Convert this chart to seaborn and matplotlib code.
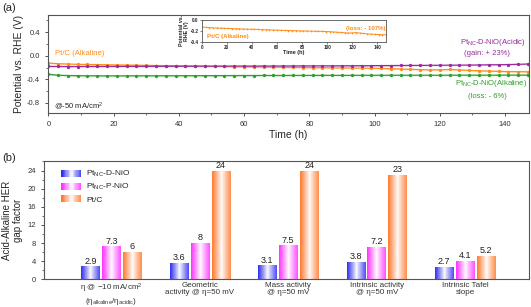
import numpy as np
import pandas as pd
import matplotlib
matplotlib.use("Agg")
import matplotlib.pyplot as plt
import seaborn as sns
from matplotlib.patches import Patch, Rectangle
from matplotlib.legend_handler import HandlerBase
from matplotlib.ticker import MultipleLocator, FormatStrFormatter

# ---------------- data: (a) stability test ----------------
time_h = [0, 3, 6, 9, 12, 15, 18, 21, 24, 27, 30, 33, 36, 39, 42, 45, 48, 51, 54, 57,
          60, 63, 66, 69, 72, 75, 78, 81, 84, 87, 90, 93, 96, 99, 102, 105, 108, 111, 114, 117,
          120, 123, 126, 129, 132, 135, 138, 141, 144, 147]

ptc_alkaline = [-0.125, -0.135, -0.140, -0.145, -0.148, -0.150, -0.153, -0.156, -0.158, -0.160,
                -0.163, -0.166, -0.168, -0.170, -0.172, -0.175, -0.178, -0.180, -0.182, -0.185,
                -0.187, -0.190, -0.192, -0.194, -0.196, -0.198, -0.200, -0.202, -0.203, -0.205,
                -0.207, -0.208, -0.210, -0.212, -0.215, -0.220, -0.225, -0.230, -0.235, -0.240,
                -0.238, -0.232, -0.240, -0.248, -0.255, -0.260, -0.265, -0.268, -0.270, -0.272]

dnio_acidic = [-0.180, -0.182, -0.183, -0.183, -0.182, -0.182, -0.181, -0.181, -0.180, -0.180,
               -0.180, -0.179, -0.179, -0.178, -0.178, -0.177, -0.177, -0.176, -0.176, -0.175,
               -0.175, -0.175, -0.174, -0.174, -0.173, -0.173, -0.172, -0.172, -0.171, -0.171,
               -0.170, -0.170, -0.169, -0.168, -0.167, -0.166, -0.165, -0.164, -0.163, -0.162,
               -0.161, -0.160, -0.159, -0.158, -0.156, -0.154, -0.152, -0.149, -0.145, -0.140]

dnio_alkaline = [-0.315, -0.330, -0.335, -0.338, -0.340, -0.340, -0.341, -0.341, -0.341, -0.340,
                 -0.340, -0.340, -0.339, -0.339, -0.338, -0.338, -0.337, -0.337, -0.336, -0.336,
                 -0.335, -0.335, -0.334, -0.334, -0.334, -0.333, -0.333, -0.333, -0.332, -0.332,
                 -0.332, -0.332, -0.331, -0.331, -0.331, -0.331, -0.330, -0.330, -0.330, -0.330,
                 -0.330, -0.330, -0.329, -0.329, -0.329, -0.329, -0.329, -0.328, -0.328, -0.328]

# ---------------- data: (b) gap factors ----------------
categories = ["η @ −10 mA/cm$^2$\n(η$_{\\mathregular{alkaline}}$/η$_{\\mathregular{acidic}}$)",
              "Geometric\nactivity @ η=50 mV",
              "Mass activity\n@ η=50 mV",
              "Intrinsic activity\n@ η=50 mV",
              "Intrinsic Tafel\nslope"]
catalysts = ["Pt$_{\\mathregular{NC}}$-D-NiO", "Pt$_{\\mathregular{NC}}$-P-NiO", "Pt/C"]
gap_dnio = [2.9, 3.6, 3.1, 3.8, 2.7]
gap_pnio = [7.3, 8, 7.5, 7.2, 4.1]
gap_ptc = [6, 24, 24, 23, 5.2]

c_orange = "#ff8c1a"
c_purple = "#9a2a9e"
c_green = "#2ca02c"
bar_colors = ["#2f2ff0", "#ff33ff", "#ff7a2e"]

sns.set_style("ticks")
plt.rcParams["font.family"] = ["Liberation Sans", "DejaVu Sans"]
plt.rcParams["mathtext.fontset"] = "custom"
plt.rcParams["mathtext.rm"] = "Liberation Sans"
plt.rcParams["mathtext.it"] = "Liberation Sans:italic"

fig = plt.figure(figsize=(5.31, 3.07), dpi=100)
spine_col = "#555555"


def style_axes(ax):
    for s in ax.spines.values():
        s.set_visible(True)
        s.set_color(spine_col)
        s.set_linewidth(0.8)
    ax.tick_params(colors="#333333", width=0.6, length=2.5, which="major")
    ax.tick_params(colors="#333333", width=0.5, length=1.5, which="minor")


# ================= (a) =================
ax1 = fig.add_axes([0.091, 0.632, 0.905, 0.319])
df_a = pd.DataFrame({"t": time_h, "ptc": ptc_alkaline, "acid": dnio_acidic, "alk": dnio_alkaline})
for col, c in [("alk", c_green), ("ptc", c_orange), ("acid", c_purple)]:
    ax1.fill_between(df_a["t"], df_a[col] - 0.012, df_a[col] + 0.012, color=c, alpha=0.18, lw=0)
    sns.lineplot(data=df_a, x="t", y=col, ax=ax1, color=c, lw=0.9, marker="o",
                 markersize=2.4, markeredgewidth=0)
ax1.set_xlim(0, 147.3)
ax1.set_ylim(-0.97, 0.69)
ax1.xaxis.set_major_locator(MultipleLocator(20))
ax1.xaxis.set_minor_locator(MultipleLocator(10))
ax1.yaxis.set_major_locator(MultipleLocator(0.4))
ax1.yaxis.set_minor_locator(MultipleLocator(0.2))
ax1.yaxis.set_major_formatter(FormatStrFormatter("%.1f"))
ax1.tick_params(labelsize=5.5)
ax1.set_xlabel("Time (h)", fontsize=7.5, labelpad=1)
ax1.set_ylabel("Potential vs. RHE (V)", fontsize=7.5, labelpad=2)
style_axes(ax1)

ax1.text(2, 0.03, "Pt/C (Alkaline)", color=c_orange, fontsize=5.5, va="center")
ax1.text(1.7, -0.85, "@-50 mA/cm$^2$", color="#222222", fontsize=5.5, va="center")
ax1.text(146.5, 0.224, "Pt$_{\\mathregular{NC}}$-D-NiO(Acidic)", color=c_purple, fontsize=5.5,
         ha="right", va="center")
ax1.text(134.4, 0.044, "(gain: + 23%)", color=c_purple, fontsize=5.5, ha="center", va="center")
ax1.text(146.9, -0.465, "Pt$_{\\mathregular{NC}}$-D-NiO(Alkaline)", color=c_green, fontsize=5.5,
         ha="right", va="center")
ax1.text(134.7, -0.69, "(loss: - 6%)", color=c_green, fontsize=5.5, ha="center", va="center")

# inset
axi = fig.add_axes([0.380, 0.864, 0.347, 0.071])
sns.lineplot(data=df_a, x="t", y="ptc", ax=axi, color=c_orange, lw=0.7, marker="o",
             markersize=1.2, markeredgewidth=0)
axi.set_xlim(0, 147)
axi.set_ylim(-0.4, 0.0)
axi.xaxis.set_major_locator(MultipleLocator(20))
axi.yaxis.set_major_locator(MultipleLocator(0.2))
axi.yaxis.set_major_formatter(FormatStrFormatter("%.1f"))
axi.tick_params(labelsize=3.3, pad=1, length=1.2, width=0.4)
for lab in axi.get_xticklabels() + axi.get_yticklabels():
    lab.set_fontweight("bold")
axi.set_xlabel("Time (h)", fontsize=4, fontweight="bold", labelpad=0)
axi.set_ylabel("Potential vs.\nRHE (V)", fontsize=3.8, fontweight="bold", labelpad=1, linespacing=1.0)
for s in axi.spines.values():
    s.set_visible(True)
    s.set_color(spine_col)
    s.set_linewidth(0.6)
axi.text(0.03, 0.22, "Pt/C (Alkaline)", transform=axi.transAxes, color=c_orange,
         fontsize=4.4, fontweight="bold", va="center")
axi.text(0.995, 0.62, "(loss: - 107%)", transform=axi.transAxes, color=c_orange,
         fontsize=4.4, fontweight="bold", va="center", ha="right")

fig.text(0.004, 0.975, "(a)", fontsize=8, va="center")

# ================= (b) =================
ax2 = fig.add_axes([0.083, 0.090, 0.913, 0.384])
df_b = pd.DataFrame({
    "category": categories * 3,
    "catalyst": [catalysts[0]] * 5 + [catalysts[1]] * 5 + [catalysts[2]] * 5,
    "gap": gap_dnio + gap_pnio + gap_ptc,
})
sns.barplot(data=df_b, x="category", y="gap", hue="catalyst", palette=bar_colors,
            width=0.71, gap=0.12, ax=ax2, legend=False, saturation=1)


def grad_rgba(color, n=64):
    rgb = np.array(matplotlib.colors.to_rgb(color))
    t = np.linspace(0, 1, n)
    f = np.abs(2 * t - 1) ** 0.9
    f = np.where(t < 0.5, f, 0.85 * f)
    arr = (1 - f)[:, None] * np.ones(3) + f[:, None] * rgb
    return arr


for container, col in zip(ax2.containers, bar_colors):
    g = grad_rgba(col)[None, :, :]
    for p in container.patches:
        x0, y0, w, h = p.get_x(), p.get_y(), p.get_width(), p.get_height()
        im = ax2.imshow(g, extent=[x0, x0 + w, y0, y0 + h], aspect="auto",
                        interpolation="bilinear", zorder=2)
        im.set_clip_path(p)
        p.set_facecolor("none")
        p.set_edgecolor("none")
    ax2.bar_label(container, fmt="%g", fontsize=6.5, padding=0.5, color="#222222")

ax2.set_xlim(-0.76, 4.72)
ax2.set_ylim(0, 26)
ax2.yaxis.set_major_locator(MultipleLocator(4))
ax2.yaxis.set_minor_locator(MultipleLocator(2))
ax2.tick_params(axis="y", labelsize=5.5)
ax2.tick_params(axis="x", labelsize=5.8, length=0, pad=2)
for lab in ax2.get_xticklabels():
    lab.set_linespacing(1.05)
ax2.set_xlabel("")
ax2.set_ylabel("Acid-Alkaline HER\ngap factor", fontsize=7, labelpad=3, linespacing=1.1)
style_axes(ax2)
ax2.tick_params(axis="x", length=0)


class GradHandler(HandlerBase):
    def create_artists(self, legend, orig_handle, xdescent, ydescent, width, height, fontsize, trans):
        arr = grad_rgba(orig_handle.get_facecolor(), n=16)
        n = len(arr)
        arts = []
        for i in range(n):
            r = Rectangle((-xdescent + i * width / n, -ydescent), width / n + 0.05, height,
                          facecolor=arr[i], edgecolor="none", transform=trans)
            arts.append(r)
        return arts


handles = [Patch(facecolor=c, label=l) for c, l in zip(bar_colors, catalysts)]
ax2.legend(handles=handles, handler_map={Patch: GradHandler()}, loc="upper left",
           bbox_to_anchor=(0.02, 1.0), frameon=False, fontsize=6, handlelength=2.4,
           handleheight=0.9, labelspacing=0.35, handletextpad=0.6)

fig.text(0.004, 0.485, "(b)", fontsize=8, va="center")

fig.savefig("out.png", dpi=100)
